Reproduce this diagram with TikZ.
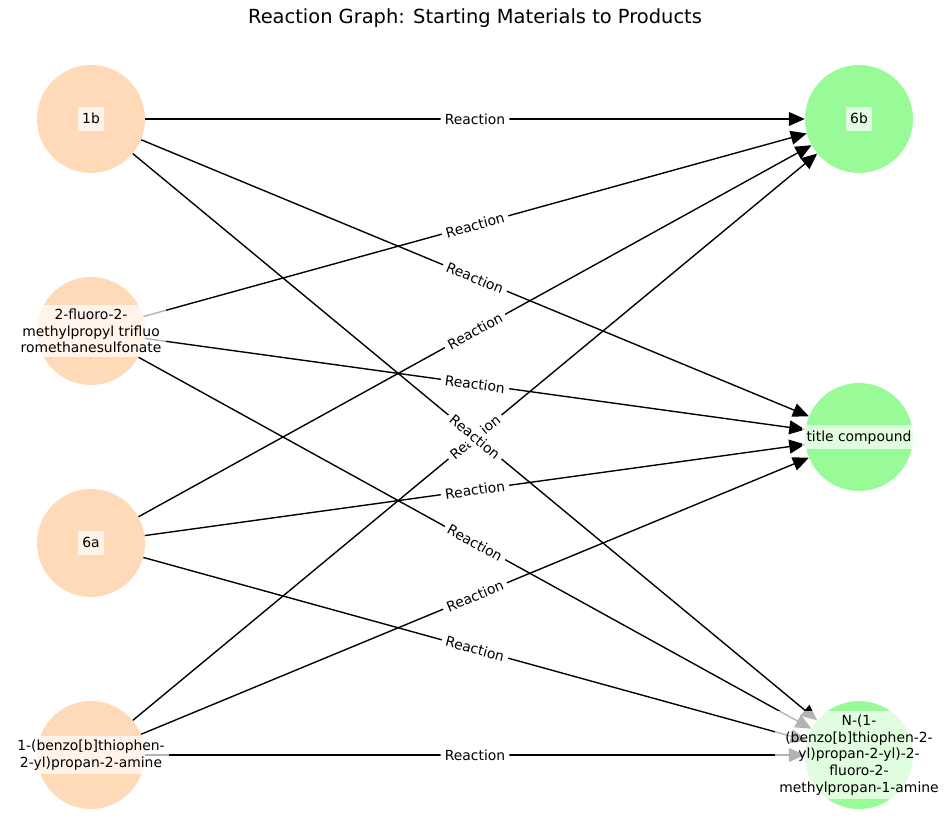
\documentclass[tikz,border=0pt]{standalone}
\usepackage{fontspec}
\setmainfont{DejaVu Sans}
\usetikzlibrary{arrows.meta}
\definecolor{peach}{RGB}{255,218,185}
\definecolor{pgreen}{RGB}{152,251,152}
\begin{document}
\begin{tikzpicture}[x=0.72pt,y=-0.72pt,
  blob/.style={circle, minimum size=77.76pt, inner sep=0pt, draw=none},
  src/.style={blob, fill=peach},
  prod/.style={blob, fill=pgreen},
  nlabel/.style={fill=white, fill opacity=0.7, text opacity=1, inner sep=3pt, align=center,
    font=\fontsize{10}{12}\selectfont},
  oneline/.style={nlabel, text height=8.8pt, text depth=2.8pt},
  elabel/.style={fill=white, rounded corners=3pt, inner sep=3pt, sloped,
    font=\fontsize{10}{12}\selectfont},
  rx/.style={line width=1pt, -{Triangle[length=11.5pt,width=10pt]}}
]
\useasboundingbox (0,0) rectangle (950,832);
\node[font=\fontsize{14}{16}\selectfont] (title) at (475,18) {Reaction Graph: Starting Materials to Products};

% nodes
\node[src] (L1) at (91,119) {};
\node[src] (L2) at (91,331) {};
\node[src] (L3) at (91,543) {};
\node[src] (L4) at (91,755) {};
\node[prod] (R1) at (859,119) {};
\node[prod] (R2) at (859,437) {};
\node[prod] (R3) at (859,755) {};

% edges
\foreach \a in {L1,L2,L3,L4}{
  \foreach \b in {R1,R2,R3}{
    \draw[rx] (\a) -- (\b);
  }
}

% node labels
\node[oneline] (t1) at (L1) {1b};
\node[nlabel] (t2) at (L2) {2-fluoro-2-\\methylpropyl trifluo\\romethanesulfonate};
\node[oneline] (t3) at (L3) {6a};
\node[nlabel] (t4) at (L4) {1-(benzo[b]thiophen-\\2-yl)propan-2-amine};
\node[oneline] (t5) at (R1) {6b};
\node[oneline] (t6) at (R2) {title compound};
\node[nlabel] (t7) at (R3) {N-(1-\\(benzo[b]thiophen-2-\\yl)propan-2-yl)-2-\\fluoro-2-\\methylpropan-1-amine};

% edge labels
\path (L4.center) -- (R1.center) node[midway, elabel] (e41) {Reaction};
\foreach \a/\b in {L1/R1,L1/R2,L1/R3,L2/R1,L2/R2,L2/R3,L3/R1,L3/R2,L3/R3,L4/R2,L4/R3}{
  \path (\a.center) -- (\b.center) node[midway, elabel] (e\a\b) {Reaction};
}
\end{tikzpicture}
\end{document}
